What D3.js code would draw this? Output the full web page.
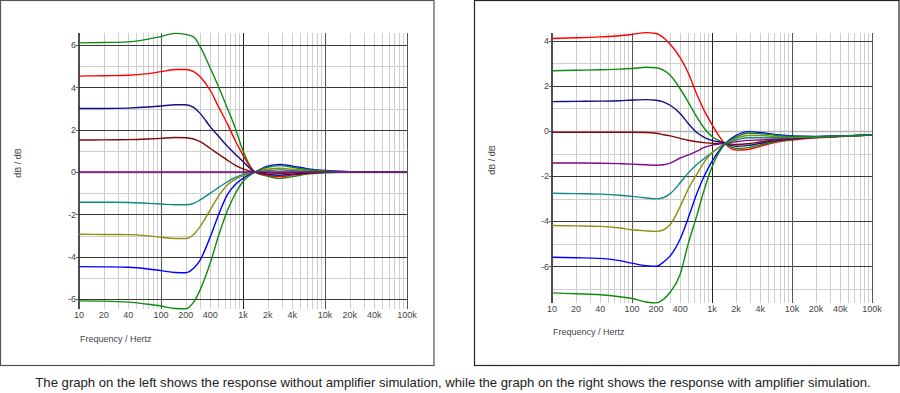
<!DOCTYPE html>
<html><head><meta charset="utf-8">
<script src="https://cdn.jsdelivr.net/npm/d3@7/dist/d3.min.js"></script>
<style>body{margin:0;background:#fff;} svg{display:block;}</style>
</head><body>
<script>
// ---------- DATA ----------
const freqs = [10,20,40,70,100,150,200,250,300,400,500,650,800,1000,1400,2000,2800,4000,6000,10000,20000,40000,100000];
const xTickValues = [10,20,40,100,200,400,1000,2000,4000,10000,20000,40000,100000];
const xTickLabels = ["10","20","40","100","200","400","1k","2k","4k","10k","20k","40k","100k"];
const leftYTicks = [-6,-4,-2,0,2,4,6];
const rightYTicks = [-6,-4,-2,0,2,4];

// Left graph: without amplifier simulation (dB)
const leftGreenTop = [6.10,6.12,6.15,6.28,6.40,6.55,6.50,6.38,5.92,4.90,4.05,2.98,2.10,1.00,0,-0.20,-0.30,-0.22,-0.10,-0.04,0,0,0];
const leftRed      = [4.53,4.55,4.57,4.65,4.74,4.84,4.84,4.74,4.50,3.85,3.10,2.25,1.50,0.80,0,-0.15,-0.22,-0.15,-0.07,-0.02,0,0,0];
const leftNavy     = [3.00,3.00,3.02,3.07,3.12,3.18,3.18,3.05,2.77,2.13,1.70,1.20,0.85,0.50,0,-0.10,-0.15,-0.10,-0.05,-0.01,0,0,0];
const leftMaroon   = [1.51,1.52,1.53,1.56,1.59,1.63,1.62,1.56,1.43,1.11,0.85,0.55,0.33,0.15,0,-0.04,-0.06,-0.04,-0.02,0,0,0,0];
const leftPurple   = [0,0,0,0,0,0,0,0,0,0,0,0,0,0,0,0,0,0,0,0,0,0,0];
const leftTeal     = [-1.43,-1.43,-1.44,-1.48,-1.51,-1.55,-1.55,-1.48,-1.32,-1.00,-0.74,-0.45,-0.27,-0.12,0,0.07,0.10,0.07,0.04,0.01,0,0,0];
const leftOlive    = [-2.94,-2.95,-2.96,-3.02,-3.08,-3.14,-3.14,-2.95,-2.58,-1.78,-1.15,-0.60,-0.35,-0.18,0,0.13,0.18,0.13,0.07,0.03,0,0,0];
const leftBlue     = [-4.47,-4.48,-4.50,-4.58,-4.66,-4.75,-4.76,-4.55,-4.16,-3.05,-2.05,-1.05,-0.60,-0.30,0,0.28,0.36,0.28,0.16,0.07,0.02,0,0];
const leftGreenBot = [-6.09,-6.10,-6.15,-6.25,-6.33,-6.45,-6.46,-6.15,-5.57,-4.28,-3.05,-1.80,-1.05,-0.45,0,0.22,0.30,0.22,0.12,0.05,0.01,0,0];

// Right graph: with amplifier simulation (dB)
const rightRed      = [4.10,4.13,4.17,4.22,4.28,4.36,4.32,4.12,3.84,3.25,2.60,1.60,0.90,0.28,-0.50,-0.85,-0.82,-0.68,-0.52,-0.40,-0.30,-0.25,-0.18];
const rightGreenTop = [2.67,2.69,2.71,2.74,2.77,2.82,2.80,2.68,2.47,1.87,1.30,0.60,0.12,-0.25,-0.52,-0.78,-0.74,-0.62,-0.48,-0.37,-0.29,-0.24,-0.18];
const rightNavy     = [1.30,1.31,1.32,1.34,1.37,1.39,1.36,1.28,1.14,0.77,0.35,-0.08,-0.28,-0.42,-0.52,-0.68,-0.64,-0.55,-0.44,-0.35,-0.28,-0.24,-0.18];
const rightMaroon   = [-0.06,-0.06,-0.06,-0.06,-0.06,-0.07,-0.10,-0.17,-0.22,-0.33,-0.41,-0.48,-0.52,-0.55,-0.55,-0.60,-0.57,-0.49,-0.40,-0.33,-0.27,-0.23,-0.18];
const rightPurple   = [-1.42,-1.42,-1.43,-1.45,-1.47,-1.50,-1.52,-1.50,-1.43,-1.20,-1.07,-0.89,-0.73,-0.63,-0.55,-0.48,-0.42,-0.40,-0.36,-0.31,-0.27,-0.23,-0.18];
const rightTeal     = [-2.76,-2.78,-2.80,-2.85,-2.90,-2.97,-3.01,-2.95,-2.78,-2.30,-1.88,-1.48,-1.22,-0.97,-0.60,-0.40,-0.30,-0.30,-0.30,-0.29,-0.26,-0.23,-0.18];
const rightOlive    = [-4.19,-4.21,-4.23,-4.30,-4.38,-4.43,-4.45,-4.38,-4.15,-3.35,-2.60,-1.90,-1.38,-0.97,-0.60,-0.33,-0.20,-0.20,-0.24,-0.26,-0.25,-0.23,-0.18];
const rightBlue     = [-5.60,-5.62,-5.65,-5.75,-5.86,-5.97,-6.00,-5.80,-5.54,-4.79,-3.90,-2.75,-2.00,-1.35,-0.62,-0.20,-0.03,-0.07,-0.16,-0.22,-0.24,-0.22,-0.18];
const rightGreenBot = [-7.18,-7.22,-7.26,-7.35,-7.43,-7.58,-7.62,-7.45,-7.15,-6.35,-5.05,-3.72,-2.60,-1.60,-0.65,-0.27,-0.10,-0.12,-0.18,-0.24,-0.25,-0.22,-0.18];

const caption = "The graph on the left shows the response without amplifier simulation, while the graph on the right shows the response with amplifier simulation.";

// ---------- STYLE ----------
const C = {green:"#108a10", red:"#ff0000", navy:"#10108a", maroon:"#820808", purple:"#840884", teal:"#108a8a", olive:"#8e8e10", blue:"#0000ff"};
const leftSeries = [
  [leftGreenTop,C.green],[leftRed,C.red],[leftNavy,C.navy],[leftMaroon,C.maroon],
  [leftTeal,C.teal],[leftOlive,C.olive],[leftBlue,C.blue],[leftGreenBot,C.green],[leftPurple,C.purple]];
const rightSeries = [
  [rightRed,C.red],[rightGreenTop,C.green],[rightNavy,C.navy],[rightMaroon,C.maroon],
  [rightPurple,C.purple],[rightTeal,C.teal],[rightOlive,C.olive],[rightBlue,C.blue],[rightGreenBot,C.green]];

const FONT = "'Liberation Sans', Arial, sans-serif";
const svg = d3.select("body").append("svg").attr("width",900).attr("height",393)
  .style("font-family",FONT);

function panel(cfg, series, yTicks){
  const g = svg.append("g");
  // frame
  g.append("rect").attr("x",cfg.frame[0]).attr("y",cfg.frame[1])
    .attr("width",cfg.frame[2]-cfg.frame[0]).attr("height",cfg.frame[3]-cfg.frame[1])
    .attr("fill","#fff").attr("stroke",cfg.frameColor).attr("stroke-width",1.2);

  const x = d3.scaleLog().domain([10,100000]).range([cfg.x0,cfg.x1]);
  const y = d3.scaleLinear().domain(cfg.yDom).range(cfg.yRange);
  const top = cfg.top, bot = cfg.bot;
  const vMin = Math.ceil(y.invert(bot)), vMax = Math.floor(y.invert(top));

  // minor vertical grid
  const minorF = [];
  [10,100,1000,10000].forEach(d=>{ for(let m=2;m<=9;m++) minorF.push(m*d); });
  g.selectAll(".vmin").data(minorF).enter().append("line")
    .attr("x1",d=>Math.round(x(d))+0.5).attr("x2",d=>Math.round(x(d))+0.5)
    .attr("y1",top).attr("y2",bot).attr("stroke","#cfcfcf").attr("stroke-width",1);
  // minor horizontal grid
  const hMinor = d3.range(vMin, vMax+1).filter(v=>Math.abs(v)%2===1);
  g.selectAll(".hmin").data(hMinor).enter().append("line")
    .attr("x1",cfg.x0).attr("x2",cfg.x1)
    .attr("y1",d=>Math.round(y(d))+0.5).attr("y2",d=>Math.round(y(d))+0.5)
    .attr("stroke","#cfcfcf").attr("stroke-width",1);
  // major horizontal grid
  g.selectAll(".hmaj").data(yTicks).enter().append("line")
    .attr("x1",cfg.x0).attr("x2",cfg.x1)
    .attr("y1",d=>Math.round(y(d))+0.5).attr("y2",d=>Math.round(y(d))+0.5)
    .attr("stroke",d=>d===0?cfg.zeroColor:"#3a3a3a").attr("stroke-width",d=>d===0?1.6:1);
  // major vertical grid
  g.selectAll(".vmaj").data([100,1000,10000,100000]).enter().append("line")
    .attr("x1",d=>Math.round(x(d))+0.5).attr("x2",d=>Math.round(x(d))+0.5)
    .attr("y1",top).attr("y2",bot).attr("stroke",d=>d===1000?"#222":"#555").attr("stroke-width",1);
  // y axis line
  g.append("line").attr("x1",cfg.x0).attr("x2",cfg.x0).attr("y1",top).attr("y2",bot)
    .attr("stroke","#222").attr("stroke-width",1.6);
  // y ticks
  g.selectAll(".yt").data(yTicks).enter().append("line")
    .attr("x1",cfg.x0-3).attr("x2",cfg.x0)
    .attr("y1",d=>Math.round(y(d))+0.5).attr("y2",d=>Math.round(y(d))+0.5)
    .attr("stroke","#555");
  g.selectAll(".ytl").data(yTicks).enter().append("text")
    .attr("x",cfg.x0-3).attr("y",d=>y(d)+3.2).attr("text-anchor","end")
    .attr("font-size",9).attr("fill","#444").text(d=>d);
  // x tick labels
  g.selectAll(".xtl").data(xTickValues).enter().append("text")
    .attr("x",d=>x(d)).attr("y",cfg.xLabY).attr("text-anchor","middle")
    .attr("font-size",9).attr("fill","#444").text((d,i)=>xTickLabels[i]);
  // axis titles
  g.append("text").attr("x",cfg.x0+1).attr("y",cfg.titleY).attr("font-size",9)
    .attr("fill","#444").text("Frequency / Hertz");
  g.append("text").attr("transform",`translate(${cfg.yLabX},${cfg.yLabY}) rotate(-90)`)
    .attr("text-anchor","middle").attr("font-size",9).attr("fill","#444").text("dB / dB");

  // curves
  const line = d3.line().x((d,i)=>x(freqs[i])).y(d=>y(d)).curve(d3.curveMonotoneX);
  g.selectAll(".curve").data(series).enter().append("path")
    .attr("d",d=>line(d[0])).attr("fill","none").attr("stroke",d=>d[1])
    .attr("stroke-width",1.4).attr("stroke-linejoin","round");
}

panel({frame:[0.5,0.5,434,365.5], frameColor:"#555", x0:79, x1:407, top:33, bot:309,
       yDom:[-6,6], yRange:[299,45], xLabY:318, titleY:342, yLabX:21, yLabY:163, zeroColor:"#888"},
      leftSeries, leftYTicks);
panel({frame:[474.5,0.5,899,365.5], frameColor:"#222", x0:552, x1:872, top:33, bot:303,
       yDom:[-6,4], yRange:[266.3,40.7], xLabY:312, titleY:335, yLabX:495, yLabY:160, zeroColor:"#b4b4b4"},
      rightSeries, rightYTicks);

// caption
const cap = svg.append("text").attr("x",453).attr("y",387).attr("text-anchor","middle")
  .attr("font-size",12).attr("fill","#222").text(caption);
const w = cap.node().getComputedTextLength();
cap.attr("font-size", 12*836/w);
</script>
</body></html>
